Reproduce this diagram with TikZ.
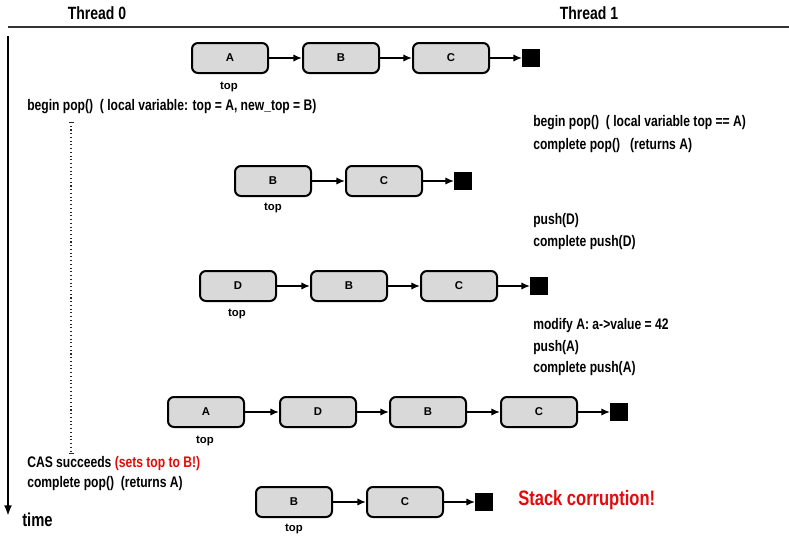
\documentclass[tikz,border=0pt]{standalone}
\usepackage{fontspec}
\usetikzlibrary{arrows.meta}
\setmainfont{Liberation Sans}[FakeStretch=0.79]
\newfontfamily\elemfont{Liberation Sans}
\definecolor{boxgray}{RGB}{217,217,217}
\definecolor{alarmred}{RGB}{228,10,10}
\tikzset{
  elem/.style={draw, line width=1.5pt, rounded corners=4.5pt, fill=boxgray,
    minimum width=57pt, minimum height=22.5pt, font=\elemfont\bfseries\fontsize{8.5}{10}\selectfont},
  nil/.style={fill=black, minimum size=13pt, inner sep=0pt},
  link/.style={-{Latex[length=6.5pt,width=5.5pt]}, line width=1.2pt},
  lbl/.style={anchor=west, inner sep=0pt, font=\bfseries\fontsize{11.5}{13}\selectfont},
  toplbl/.style={inner sep=0pt, font=\elemfont\bfseries\fontsize{8.5}{10}\selectfont}
}
\begin{document}
\begin{tikzpicture}[x=0.75pt, y=-0.75pt]
  \useasboundingbox (0,0) rectangle (789,539);
  % Cabecera y eje de tiempo
  \node[font=\bfseries\fontsize{13.3}{15}\selectfont] (t0) at (97,13) {Thread 0};
  \node[font=\bfseries\fontsize{13.3}{15}\selectfont] (t1) at (589,13) {Thread 1};
  \draw[line width=0.8pt, black!80] (8,27) -- (789,27);
  \draw[-{Latex[length=8pt,width=6pt]}, line width=1.6pt] (8,36) -- (8,516);
  \node[lbl, font=\bfseries\fontsize{14}{16}\selectfont] (time) at (22,520) {time};
  \draw[dotted, line width=0.8pt, black!85] (71,122) -- (71,453);
  \draw[black!85] (68.5,122) -- (73.5,122);
  \draw[black!85] (68.5,453) -- (73.5,453);

  % Pila A B C
  \node[elem] (a1) at (230,58) {A};
  \node[elem] (b1) at (341,58) {B};
  \node[elem] (c1) at (451,58) {C};
  \node[nil] (n1) at (531,58) {};
  \draw[link] (a1) -- (b1);
  \draw[link] (b1) -- (c1);
  \draw[link] (c1) -- (n1);
  \node[toplbl] (top1) at (229,87) {top};
  \node[lbl] (s1) at (27,107) {begin pop()\ \ ( local variable: top = A, new\_top = B)};

  % Thread 1: pop
  \node[lbl] (r1) at (533,123) {begin pop()\ \ ( local variable top == A)};
  \node[lbl] (r2) at (533,146) {complete pop()\ \ \ (returns A)};
  \node[elem] (b2) at (273,181) {B};
  \node[elem] (c2) at (384,181) {C};
  \node[nil] (n2) at (463,181) {};
  \draw[link] (b2) -- (c2);
  \draw[link] (c2) -- (n2);
  \node[toplbl] (top2) at (273,208) {top};

  % Thread 1: push(D)
  \node[lbl] (r3) at (533,221) {push(D)};
  \node[lbl] (r4) at (533,243) {complete push(D)};
  \node[elem] (d3) at (238,286) {D};
  \node[elem] (b3) at (349,286) {B};
  \node[elem] (c3) at (459,286) {C};
  \node[nil] (n3) at (539,286) {};
  \draw[link] (d3) -- (b3);
  \draw[link] (b3) -- (c3);
  \draw[link] (c3) -- (n3);
  \node[toplbl] (top3) at (237,314) {top};

  % Thread 1: push(A)
  \node[lbl] (r5) at (533,326) {modify A: a->value = 42};
  \node[lbl] (r6) at (533,348) {push(A)};
  \node[lbl] (r7) at (533,369) {complete push(A)};
  \node[elem] (a4) at (206,412) {A};
  \node[elem] (d4) at (318,412) {D};
  \node[elem] (b4) at (428,412) {B};
  \node[elem] (c4) at (539,412) {C};
  \node[nil] (n4) at (619,412) {};
  \draw[link] (a4) -- (d4);
  \draw[link] (d4) -- (b4);
  \draw[link] (b4) -- (c4);
  \draw[link] (c4) -- (n4);
  \node[toplbl] (top4) at (205,441) {top};

  % Thread 0: CAS
  \node[lbl] (s2) at (27,464) {CAS succeeds \textcolor{alarmred}{(sets top to B!)}};
  \node[lbl] (s3) at (27,484) {complete pop()\ \ (returns A)};
  \node[elem] (b5) at (294,502) {B};
  \node[elem] (c5) at (405,502) {C};
  \node[nil] (n5) at (484,502) {};
  \draw[link] (b5) -- (c5);
  \draw[link] (c5) -- (n5);
  \node[toplbl] (top5) at (294,529) {top};
  \node[lbl, text=alarmred, font=\bfseries\fontsize{15.7}{18}\selectfont] (bad) at (518,500) {Stack corruption!};
\end{tikzpicture}
\end{document}
